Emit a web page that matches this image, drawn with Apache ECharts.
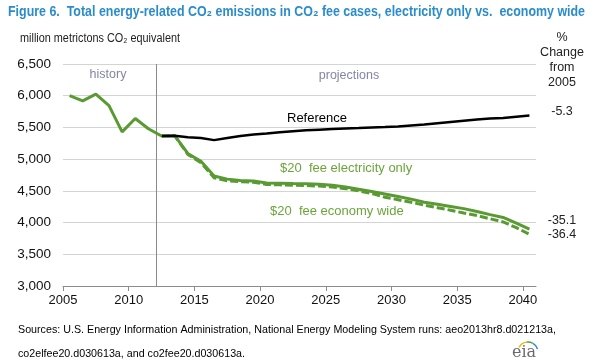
<!DOCTYPE html>
<html>
<head>
<meta charset="utf-8">
<script src="https://cdn.jsdelivr.net/npm/echarts@6/dist/echarts.min.js"></script>
<style>html,body{margin:0;padding:0;background:#fff;}#c{width:590px;height:362px;}</style>
</head>
<body>
<div id="c"></div>
<script>
// ---- data ----
var histYears = [2005, 2006, 2007, 2008, 2009, 2010, 2011, 2012];
var historyVals = [6000, 5920, 6025, 5845, 5430, 5640, 5480, 5365];
var projYears = [2012, 2013, 2014, 2015, 2016, 2017, 2018, 2019, 2020, 2021, 2022, 2023, 2024, 2025, 2026, 2027, 2028, 2029, 2030, 2031, 2032, 2033, 2034, 2035, 2036, 2037, 2038, 2039, 2040];
var referenceVals = [5365, 5370, 5345, 5335, 5300, 5335, 5365, 5390, 5405, 5425, 5440, 5455, 5465, 5475, 5485, 5492, 5500, 5505, 5515, 5530, 5545, 5565, 5585, 5605, 5625, 5640, 5650, 5670, 5688];
var elecOnlyVals = [5365, 5370, 5090, 4965, 4735, 4685, 4665, 4655, 4625, 4620, 4615, 4612, 4605, 4590, 4560, 4525, 4490, 4450, 4410, 4370, 4320, 4290, 4255, 4220, 4175, 4125, 4080, 3990, 3895];
var economyVals = [5365, 5370, 5075, 4945, 4705, 4660, 4645, 4635, 4600, 4595, 4590, 4585, 4575, 4560, 4535, 4500, 4460, 4400, 4360, 4320, 4275, 4235, 4195, 4150, 4110, 4060, 4010, 3920, 3815];
var xTickLabels = ['2005', '2010', '2015', '2020', '2025', '2030', '2035', '2040'];
var historyEndYear = 2011.6;
var pctChange = ['-5.3', '-35.1', '-36.4'];

function pairs(xs, ys) { return xs.map(function (x, i) { return [x, ys[i]]; }); }
// tick positions sit at the left edge of each year's band
var tickPos = xTickLabels.map(function (t) { return Number(t) - 0.5; });

var GREEN = '#5a9a32';
var TXT_GREEN = '#6aa53a';
var FONT = '"Liberation Sans", Arial, sans-serif';

var measureCtx = document.createElement('canvas').getContext('2d');
function fitText(text, font, x, y, width, color, extra) {
  measureCtx.font = font;
  var w = measureCtx.measureText(text).width;
  var el = { type: 'text', x: x, y: y, scaleX: width / w, style: { text: text, font: font, fill: color, verticalAlign: 'middle' } };
  if (extra) { for (var k in extra) el[k] = extra[k]; }
  return el;
}

var chart = echarts.init(document.getElementById('c'), null, { renderer: 'canvas' });
chart.setOption({
  animation: false,
  backgroundColor: '#ffffff',
  grid: { left: 63, right: 54, top: 64, bottom: 76, containLabel: false },
  xAxis: {
    type: 'value', min: 2004.5, max: 2040.5,
    axisLine: { show: true, lineStyle: { color: '#8c8c8c', width: 1 } },
    axisTick: { show: true, length: 5, lineStyle: { color: '#8c8c8c' }, customValues: tickPos },
    axisLabel: {
      customValues: tickPos, margin: 8, color: '#111', fontSize: 13, fontFamily: FONT,
      formatter: function (v) { var i = tickPos.indexOf(v); return i >= 0 ? xTickLabels[i] : ''; }
    },
    splitLine: { show: false }
  },
  yAxis: {
    type: 'value', min: 3000, max: 6500, interval: 500,
    axisLine: { show: false }, axisTick: { show: false },
    axisLabel: {
      margin: 12, color: '#111', fontSize: 13.5, fontFamily: FONT,
      formatter: function (v) { return v.toLocaleString('en-US'); }
    },
    splitLine: { show: true, lineStyle: { color: '#d4d4d4', width: 1 } }
  },
  series: [
    {
      type: 'line', name: 'economy', data: pairs(projYears, economyVals), symbol: 'none',
      lineStyle: { color: GREEN, width: 3, type: [8, 3] }, z: 2,
      markLine: {
        silent: true, symbol: ['none', 'none'], label: { show: false },
        lineStyle: { color: '#8a8a8a', width: 1, type: 'solid' },
        data: [{ xAxis: historyEndYear }]
      }
    },
    { type: 'line', name: 'elec', data: pairs(projYears, elecOnlyVals), symbol: 'none', lineStyle: { color: GREEN, width: 3 }, z: 3 },
    { type: 'line', name: 'ref', data: pairs(projYears, referenceVals), symbol: 'none', lineStyle: { color: '#000', width: 2.5 }, z: 4 },
    { type: 'line', name: 'hist', data: pairs(histYears, historyVals), symbol: 'none', lineStyle: { color: GREEN, width: 3 }, z: 5 }
  ],
  graphic: [
    fitText('Figure 6.  Total energy-related CO\u2082 emissions in CO\u2082 fee cases, electricity only vs.  economy wide', 'bold 15px "Liberation Sans", Arial, sans-serif', 8, 12, 577, '#2a8ccb'),
    fitText('million metrictons CO\u2082 equivalent', '12px ' + FONT, 20, 39, 160, '#222'),
    { type: 'text', x: 562, y: 30, style: { text: '%\nChange\nfrom\n2005', fill: '#222', font: '12.5px ' + FONT, align: 'center', lineHeight: 15 } },
    { type: 'text', x: 562, y: 112, style: { text: pctChange[0], fill: '#222', font: '12.5px ' + FONT, align: 'center', verticalAlign: 'middle' } },
    { type: 'text', x: 562, y: 221, style: { text: pctChange[1], fill: '#222', font: '12.5px ' + FONT, align: 'center', verticalAlign: 'middle' } },
    { type: 'text', x: 562, y: 235, style: { text: pctChange[2], fill: '#222', font: '12.5px ' + FONT, align: 'center', verticalAlign: 'middle' } },
    { type: 'text', x: 108, y: 75, style: { text: 'history', fill: '#8585a3', font: '12.5px ' + FONT, align: 'center', verticalAlign: 'middle' } },
    { type: 'text', x: 349, y: 76, style: { text: 'projections', fill: '#8585a3', font: '12.5px ' + FONT, align: 'center', verticalAlign: 'middle' } },
    { type: 'text', x: 287, y: 118, style: { text: 'Reference', fill: '#000', font: '13px ' + FONT, verticalAlign: 'middle' } },
    { type: 'text', x: 280, y: 168, style: { text: '$20  fee electricity only', fill: TXT_GREEN, font: '13px ' + FONT, verticalAlign: 'middle' } },
    { type: 'text', x: 270, y: 211, style: { text: '$20  fee economy wide', fill: TXT_GREEN, font: '13px ' + FONT, verticalAlign: 'middle' } },
    fitText('Sources: U.S. Energy Information Administration, National Energy Modeling System runs: aeo2013hr8.d021213a,', '11.5px ' + FONT, 18, 330, 538, '#000'),
    fitText('co2elfee20.d030613a, and co2fee20.d030613a.', '11.5px ' + FONT, 18, 354, 227, '#000'),
    { type: 'text', x: 524, y: 353, style: { text: 'eia', fill: '#6b6b6b', font: '16px "DejaVu Serif", serif', align: 'center', verticalAlign: 'middle' } },
    { type: 'arc', shape: { cx: 528, cy: 352, r: 10, startAngle: -Math.PI * 0.85, endAngle: -Math.PI * 0.55 }, style: { stroke: '#e8b800', lineWidth: 1.5, fill: 'none' } },
    { type: 'arc', shape: { cx: 528, cy: 352, r: 10, startAngle: -Math.PI * 0.55, endAngle: -Math.PI * 0.35 }, style: { stroke: '#5aa03c', lineWidth: 1.5, fill: 'none' } },
    { type: 'arc', shape: { cx: 528, cy: 352, r: 10, startAngle: -Math.PI * 0.35, endAngle: -Math.PI * 0.1 }, style: { stroke: '#2a8ccb', lineWidth: 1.5, fill: 'none' } }
  ]
});
</script>
</body>
</html>
